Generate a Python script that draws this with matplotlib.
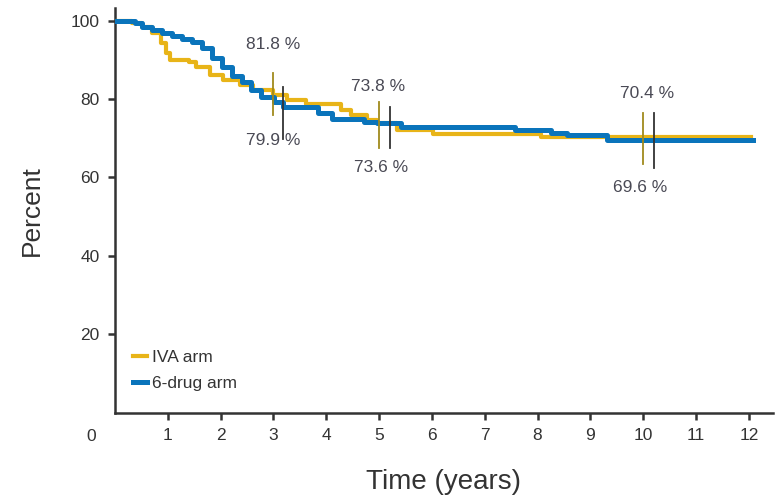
import matplotlib
matplotlib.use("Agg")
import matplotlib.pyplot as plt
from matplotlib.lines import Line2D

plt.rcParams['font.family'] = ['Liberation Sans Narrow', 'Liberation Sans', 'DejaVu Sans']

# KM curves (step, post)
iva_t = [0, 0.32, 0.51, 0.70, 0.87, 0.96, 1.05, 1.40, 1.53, 1.79, 2.04, 2.36, 2.62, 3.00,
         3.25, 3.62, 4.28, 4.47, 4.78, 4.97, 5.34, 6.03, 8.06, 12.05]
iva_s = [100, 99.4, 98.4, 96.7, 94.2, 91.6, 89.9, 89.5, 88.2, 86.1, 84.8, 83.5, 82.3, 81.0,
         79.7, 78.7, 77.2, 75.9, 74.6, 73.8, 72.1, 71.0, 70.4, 70.4]

six_t = [0, 0.38, 0.51, 0.70, 0.89, 1.08, 1.26, 1.45, 1.64, 1.83, 2.02, 2.21, 2.40, 2.58,
         2.77, 3.02, 3.19, 3.85, 4.10, 4.72, 4.97, 5.41, 7.58, 8.25, 8.56, 9.31, 12.07]
six_s = [100, 99.4, 98.4, 97.6, 96.7, 96.0, 95.4, 94.6, 92.9, 90.4, 88.2, 85.8, 84.4, 82.3,
         80.6, 79.3, 78.0, 76.5, 75.0, 74.2, 73.8, 72.9, 72.1, 71.4, 70.8, 69.6, 69.6]

# landmark estimates
land_years = [3, 5, 10]
iva_land = [81.8, 73.8, 70.4]
six_land = [79.9, 73.6, 69.6]

yellow = "#e8b418"
blue = "#0a74bb"
tick_yel = "#a08a1c"
dark = "#333333"

fig = plt.figure(figsize=(7.82, 4.99), dpi=100)
ax = fig.add_axes([0.147, 0.173, 0.841, 0.811])

ax.step(iva_t, iva_s, where='post', color=yellow, lw=3.0, zorder=3)
ax.step(six_t, six_s, where='post', color=blue, lw=3.6, zorder=4)

# vertical marks at landmarks
yel_x = [3.0, 5.0, 10.0]
yel_rng = [(75.9, 86.5), (67.4, 79.3), (63.4, 76.3)]
blk_x = [3.18, 5.2, 10.2]
blk_rng = [(69.7, 83.0), (67.4, 78.0), (62.5, 76.3)]
for x, (a, b) in zip(yel_x, yel_rng):
    ax.plot([x, x], [a, b], color=tick_yel, lw=1.3, zorder=5)
for x, (a, b) in zip(blk_x, blk_rng):
    ax.plot([x, x], [a, b], color=dark, lw=1.3, zorder=5)

top_pos = [(3.0, 93.8), (4.98, 83.3), (10.08, 81.5)]
bot_pos = [(3.0, 69.5), (5.04, 62.6), (9.94, 57.5)]
for v, (x, y) in zip(iva_land, top_pos):
    ax.text(x, y, f"{v} %", ha='center', va='center', fontsize=12.5, color="#4a4a55")
for v, (x, y) in zip(six_land, bot_pos):
    ax.text(x, y, f"{v} %", ha='center', va='center', fontsize=12.5, color="#4a4a55")

ax.set_xlim(0, 12.45)
ax.set_ylim(0, 103.2)
ax.set_xticks(range(1, 13))
ax.set_yticks([20, 40, 60, 80, 100])
ax.text(-0.45, -6, "0", ha='center', va='center', fontsize=12.5, color=dark)

for s in ['top', 'right']:
    ax.spines[s].set_visible(False)
for s in ['left', 'bottom']:
    ax.spines[s].set_linewidth(1.8)
    ax.spines[s].set_color(dark)
ax.tick_params(length=5, width=1.8, color=dark, labelsize=12.5, labelcolor=dark, pad=6)

ax.set_ylabel("Percent", fontsize=19, color=dark, labelpad=19)
ax.set_xlabel("Time (years)", fontsize=20, color=dark, labelpad=19)

handles = [Line2D([], [], color=yellow, lw=3.0), Line2D([], [], color=blue, lw=3.6)]
ax.legend(handles, ["IVA arm", "6-drug arm"], loc='lower left', bbox_to_anchor=(0.004, 0.015),
          frameon=False, fontsize=12.5, handlelength=0.8, handletextpad=0.3,
          labelspacing=0.6, labelcolor=dark)

fig.savefig("out.png", dpi=100)
